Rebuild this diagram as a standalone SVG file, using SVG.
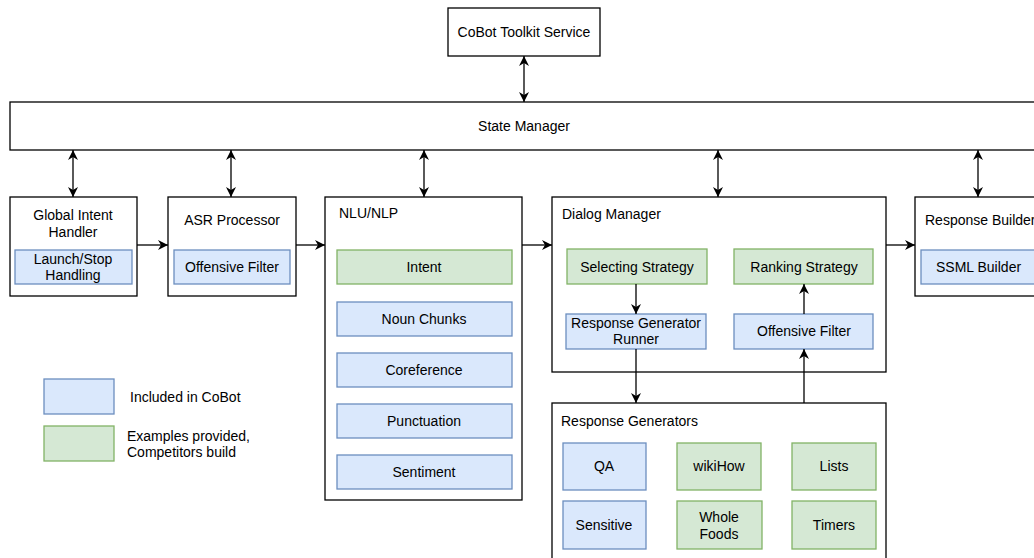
<svg xmlns="http://www.w3.org/2000/svg" width="1034" height="558" viewBox="0 0 1034 558">
<defs>
<marker id="ah" viewBox="0 0 10 10" refX="10" refY="5" markerWidth="10" markerHeight="10" orient="auto-start-reverse" markerUnits="userSpaceOnUse">
<path d="M0,0 L10,5 L0,10 L3,5 Z" fill="#000"/>
</marker>
</defs>
<style>
text{font-family:"Liberation Sans",Arial,sans-serif;font-size:14px;fill:#000}
.c{text-anchor:middle}
.box{fill:#fff;stroke:#000;stroke-width:1.3}
.blue{fill:#dae8fc;stroke:#6c8ebf;stroke-width:1.3}
.green{fill:#d5e8d4;stroke:#82b366;stroke-width:1.3}
.ln{stroke:#000;stroke-width:1.3;fill:none}
</style>
<rect width="1034" height="558" fill="#fff"/>

<g id="cobot-toolkit"><rect class="box" x="448" y="8" width="152" height="48"/><text class="c" x="524" y="37">CoBot Toolkit Service</text></g>
<g id="state-manager"><rect class="box" x="10" y="102" width="1040" height="48"/><text class="c" x="524" y="131">State Manager</text></g>

<g id="global-intent"><rect class="box" x="10" y="197" width="127" height="99"/><text class="c" x="73" y="220">Global Intent</text><text class="c" x="73" y="237">Handler</text></g>
<g id="launch-stop"><rect class="blue" x="15" y="250" width="117" height="34"/><text class="c" x="73" y="264">Launch/Stop</text><text class="c" x="73" y="280">Handling</text></g>

<g id="asr"><rect class="box" x="168" y="197" width="128" height="99"/><text class="c" x="232" y="225">ASR Processor</text></g>
<g id="asr-offensive"><rect class="blue" x="174" y="250" width="116" height="34"/><text class="c" x="232" y="272">Offensive Filter</text></g>

<g id="nlu"><rect class="box" x="325" y="197" width="197" height="303"/><text x="339" y="218">NLU/NLP</text></g>
<g id="intent"><rect class="green" x="337" y="250" width="175" height="34"/><text class="c" x="424" y="272">Intent</text></g>
<g id="noun-chunks"><rect class="blue" x="337" y="302" width="175" height="34"/><text class="c" x="424" y="324">Noun Chunks</text></g>
<g id="coreference"><rect class="blue" x="337" y="353" width="175" height="34"/><text class="c" x="424" y="375">Coreference</text></g>
<g id="punctuation"><rect class="blue" x="337" y="404" width="175" height="34"/><text class="c" x="424" y="426">Punctuation</text></g>
<g id="sentiment"><rect class="blue" x="337" y="455" width="175" height="34"/><text class="c" x="424" y="477">Sentiment</text></g>

<g id="dialog-manager"><rect class="box" x="552" y="197" width="334" height="175"/><text x="562" y="219">Dialog Manager</text></g>
<g id="selecting"><rect class="green" x="567" y="249" width="140" height="35"/><text class="c" x="637" y="272">Selecting Strategy</text></g>
<g id="ranking"><rect class="green" x="734" y="249" width="139" height="35"/><text class="c" x="804" y="272">Ranking Strategy</text></g>
<g id="rg-runner"><rect class="blue" x="566" y="314" width="140" height="35"/><text class="c" x="636" y="328">Response Generator</text><text class="c" x="636" y="344">Runner</text></g>
<g id="dm-offensive"><rect class="blue" x="734" y="314" width="139" height="35"/><text class="c" x="804" y="336">Offensive Filter</text></g>

<g id="response-builder"><rect class="box" x="915" y="197" width="130" height="99"/><text x="925" y="225">Response Builder</text></g>
<g id="ssml"><rect class="blue" x="921" y="250" width="124" height="34"/><text x="936" y="272">SSML Builder</text></g>

<g id="response-generators"><rect class="box" x="552" y="403" width="334" height="170"/><text x="561" y="426">Response Generators</text></g>
<g id="qa"><rect class="blue" x="563" y="443" width="83" height="47"/><text class="c" x="604" y="471">QA</text></g>
<g id="wikihow"><rect class="green" x="677" y="443" width="84" height="47"/><text class="c" x="719" y="471">wikiHow</text></g>
<g id="lists"><rect class="green" x="792" y="443" width="84" height="47"/><text class="c" x="834" y="471">Lists</text></g>
<g id="sensitive"><rect class="blue" x="563" y="501" width="83" height="48"/><text class="c" x="604" y="530">Sensitive</text></g>
<g id="whole-foods"><rect class="green" x="677" y="501" width="85" height="48"/><text class="c" x="719" y="522">Whole</text><text class="c" x="719" y="539">Foods</text></g>
<g id="timers"><rect class="green" x="792" y="501" width="84" height="48"/><text class="c" x="834" y="530">Timers</text></g>

<g id="legend">
<rect class="blue" x="44" y="379" width="70" height="35"/><text x="130" y="402">Included in CoBot</text>
<rect class="green" x="44" y="426" width="70" height="35"/><text x="127" y="441">Examples provided,</text><text x="127" y="457">Competitors build</text>
</g>

<g id="connectors">
<line class="ln" x1="524" y1="56" x2="524" y2="102" marker-start="url(#ah)" marker-end="url(#ah)"/>
<line class="ln" x1="73" y1="150" x2="73" y2="197" marker-start="url(#ah)" marker-end="url(#ah)"/>
<line class="ln" x1="231" y1="150" x2="231" y2="197" marker-start="url(#ah)" marker-end="url(#ah)"/>
<line class="ln" x1="424" y1="150" x2="424" y2="197" marker-start="url(#ah)" marker-end="url(#ah)"/>
<line class="ln" x1="718" y1="150" x2="718" y2="197" marker-start="url(#ah)" marker-end="url(#ah)"/>
<line class="ln" x1="978" y1="150" x2="978" y2="197" marker-start="url(#ah)" marker-end="url(#ah)"/>
<line class="ln" x1="137" y1="245" x2="168" y2="245" marker-end="url(#ah)"/>
<line class="ln" x1="296" y1="245" x2="325" y2="245" marker-end="url(#ah)"/>
<line class="ln" x1="522" y1="245" x2="552" y2="245" marker-end="url(#ah)"/>
<line class="ln" x1="886" y1="245" x2="915" y2="245" marker-end="url(#ah)"/>
<line class="ln" x1="636" y1="284" x2="636" y2="314" marker-end="url(#ah)"/>
<line class="ln" x1="804" y1="314" x2="804" y2="284" marker-end="url(#ah)"/>
<line class="ln" x1="636" y1="349" x2="636" y2="403" marker-end="url(#ah)"/>
<line class="ln" x1="804" y1="403" x2="804" y2="349" marker-end="url(#ah)"/>
</g>
</svg>
